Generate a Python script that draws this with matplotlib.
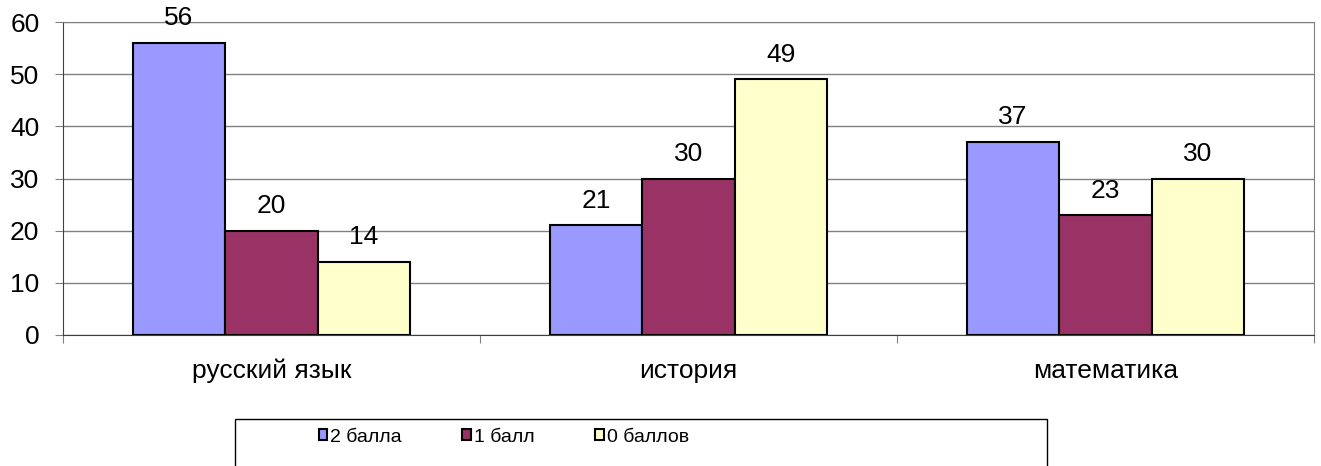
import numpy as np
import matplotlib
matplotlib.use("Agg")
import matplotlib.pyplot as plt
from matplotlib.patches import Rectangle

plt.rcParams['font.family'] = ['Liberation Sans', 'DejaVu Sans']

subjects = ['русский язык', 'история', 'математика']
series_names = ['2 балла', '1 балл', '0 баллов']
two_points = [56, 21, 37]
one_point = [20, 30, 23]
zero_points = [14, 49, 30]
colors = ['#9999FF', '#993366', '#FFFFCC']

fig = plt.figure(figsize=(13.21, 4.66), dpi=100)
ax = fig.add_axes([63 / 1321, 1 - 335 / 466, (1314 - 63) / 1321, (335 - 22) / 466])

x = np.arange(len(subjects))
w = 0.222
values = [two_points, one_point, zero_points]
for i, (vals, name, c) in enumerate(zip(values, series_names, colors)):
    bars = ax.bar(x + (i - 1) * w, vals, w, color=c, edgecolor='black',
                  linewidth=1.5, label=name, zorder=3)
    ax.bar_label(bars, padding=9, fontsize=19)

ax.set_xlim(-0.5, 2.5)
ax.set_ylim(0, 60)
ax.set_yticks(range(0, 61, 10))
ax.yaxis.grid(True, color='#808080', linewidth=1, zorder=0)
ax.tick_params(axis='y', direction='out', length=6, color='#808080',
               labelsize=19, pad=11)

ax.set_xticks([-0.5, 0.5, 1.5, 2.5])
ax.set_xticklabels([])
ax.set_xticks(x, minor=True)
ax.set_xticklabels(subjects, minor=True)
ax.tick_params(axis='x', which='major', direction='out', length=6, color='#808080')
ax.tick_params(axis='x', which='minor', length=0, labelsize=19, pad=17)

for s in ['top', 'right']:
    ax.spines[s].set_color('#808080')
ax.spines['left'].set_color('#404040')
ax.spines['bottom'].set_color('#404040')

# legend box, cut off by the bottom edge like in the original
fig.patches.append(Rectangle((235 / 1321, -0.05), (1047 - 235) / 1321, 0.05 + 1 - 419 / 466,
                             transform=fig.transFigure, fill=False,
                             edgecolor='black', linewidth=1))
handles, labels = ax.get_legend_handles_labels()
fig.legend(handles, labels, ncol=3, frameon=False, loc='center left',
           bbox_to_anchor=(309 / 1321, 1 - 437 / 466), fontsize=14,
           handlelength=0.45, handleheight=0.45, handletextpad=0.15,
           columnspacing=3.1, borderpad=0)

fig.savefig('out.png', dpi=100)
